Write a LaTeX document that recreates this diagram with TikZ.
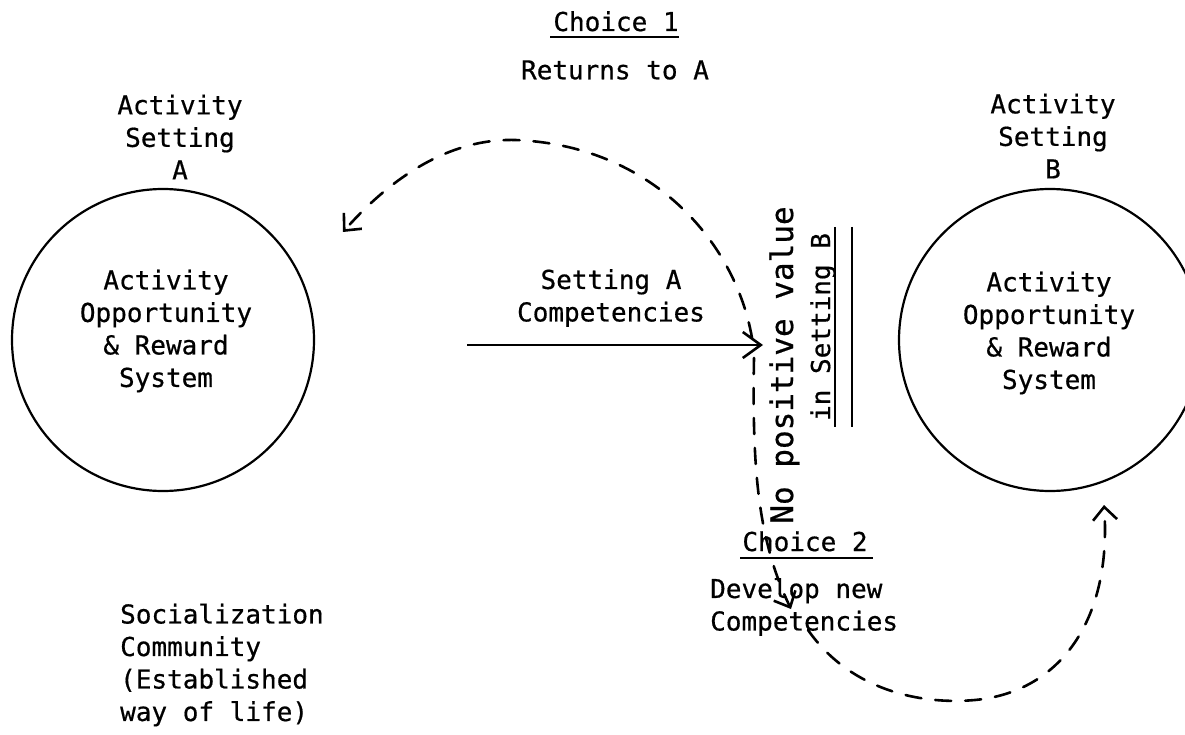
\documentclass[tikz,border=0pt]{standalone}
\usepackage{fontspec}
\newfontfamily\typer{DejaVu Sans Mono}[FakeBold=0.6]
\usetikzlibrary{arrows.meta,calc}

\begin{document}
\begin{tikzpicture}[x=1pt,y=-1pt,
  txt/.style={font=\typer\fontsize{26}{32.5}\selectfont, inner sep=0pt, align=center},
  bigtxt/.style={font=\typer\fontsize{31}{36}\selectfont, inner sep=0pt},
  ring/.style={circle, draw, line width=2.2pt, minimum size=302pt, inner sep=0pt},
  dashline/.style={line width=2.6pt, dash pattern=on 16pt off 14pt, line cap=round},
  barb/.style={-{Straight Barb[length=13pt,width=24pt,line width=2.6pt]}},
  ul/.style={line width=2.4pt}
]
\clip (0,0) rectangle (1185,735);

% the two activity settings
\node[ring] (setA) at (163,340) {};
\node[ring] (setB) at (1050,340) {};

\node[txt] (labA) at (180,137) {Activity\\Setting\\A};
\node[txt] (labB) at (1053,136) {Activity\\Setting\\B};

\node[txt] (sysA) at (166,331) {Activity\\Opportunity\\\& Reward\\System};
\node[txt] (sysB) at (1049,333) {Activity\\Opportunity\\\& Reward\\System};

% competencies carried from A toward B
\node[txt] (comp) at (611,298) {Setting A\\Competencies};
\coordinate (armstart) at (467,345);
\coordinate (hub) at (763,345);
\draw[line width=2.2pt, -{Straight Barb[length=18pt,width=26pt,line width=2.6pt]}] (armstart) -- (hub);

% barrier in front of setting B
\node[bigtxt, rotate=90, anchor=base] (nopos) at (793,365) {No positive value};
\node[txt, rotate=90, anchor=base] (inB) at (830,327) {in Setting B};
\draw[ul] (835,227) -- (835,427);
\draw[ul] (852,227) -- (852,427);

% choice 1
\node[txt, anchor=base] (c1) at (616,31) {Choice 1};
\draw[ul] ($(c1.base west)+(-3,6)$) -- ($(c1.base east)+(0,6)$);
\node[txt] (ret) at (615,70) {Returns to A};

% choice 2
\node[txt, anchor=base] (c2) at (805,551) {Choice 2};
\draw[ul] ($(c2.base west)+(-2,7)$) -- ($(c2.base east)+(5,7)$);
\node[txt, align=left, anchor=west] (dev) at (710,607) {Develop new\\Competencies};

% socialization community
\node[txt, align=left, anchor=west] (soc) at (120,665) {Socialization\\Community\\(Established\\way of life)};

% dashed choice paths
\coordinate (up1) at (752,338);
\coordinate (top1) at (515,140);
\coordinate (tipA) at (343,232);
\draw[dashline, barb] (up1) .. controls (735,240) and (650,145) .. (top1)
  .. controls (440,138) and (380,190) .. (tipA);

\coordinate (down1) at (754,358);
\coordinate (mid2) at (791,609);
\draw[dashline, barb] (down1) .. controls (752,470) and (758,540) .. (mid2);

\coordinate (go2) at (808,630);
\coordinate (low2) at (975,700);
\coordinate (tipB) at (1104,505);
\draw[dashline, barb] (go2) .. controls (850,690) and (920,705) .. (low2)
  .. controls (1060,692) and (1112,620) .. (tipB);
\end{tikzpicture}
\end{document}
